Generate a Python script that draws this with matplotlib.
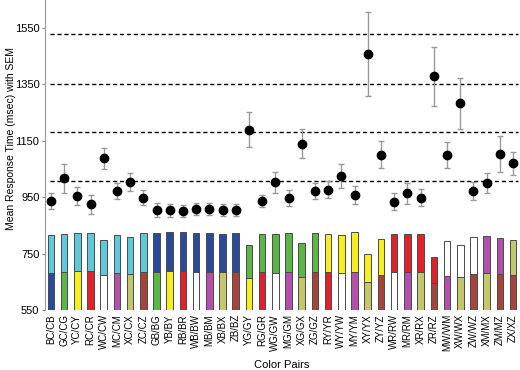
import numpy as np
import matplotlib
matplotlib.use("Agg")
from matplotlib import pyplot as plt

plt.rcParams['font.family'] = ['Liberation Sans', 'DejaVu Sans']

# colour pairs (bottom colour = first letter, top colour = second letter)
pairs = ["BC/CB", "GC/CG", "YC/CY", "RC/CR", "WC/CW", "MC/CM", "XC/CX",
         "ZC/CZ", "GB/BG", "YB/BY", "RB/BR", "WB/BW", "MB/BM", "XB/BX",
         "ZB/BZ", "YG/GY", "RG/GR", "WG/GW", "MG/GM", "XG/GX", "ZG/GZ",
         "RY/YR", "WY/YW", "MY/YM", "XY/YX", "ZY/YZ", "WR/RW", "MR/RM",
         "XR/RX", "ZR/RZ", "MW/WM", "XW/WX", "ZW/WZ", "XM/MX", "ZM/MZ",
         "ZX/XZ"]

mean_rt = [936, 1016, 955, 924, 1087, 972, 1002, 948, 905, 903, 902, 907,
           908, 905, 904, 1188, 936, 1002, 947, 1139, 972, 976, 1024, 957,
           1456, 1100, 934, 964, 948, 1378, 1098, 1282, 972, 1000, 1102,
           1070]
sem_rt = [29, 50, 32, 34, 38, 28, 32, 26, 25, 24, 21, 22, 21, 22, 22, 62,
          22, 38, 27, 51, 27, 30, 42, 31, 148, 48, 30, 37, 29, 105, 46, 90,
          31, 35, 63, 40]

# stacked colour swatches: split level and top level (msec)
split_lvl = [682, 685, 687, 688, 674, 682, 679, 686, 686, 687, 687, 686,
             686, 686, 686, 665, 686, 683, 685, 668, 685, 685, 682, 686,
             648, 675, 684, 684, 684, 645, 672, 666, 678, 680, 678, 674]
top_lvl = [815, 819, 823, 824, 799, 815, 810, 822, 822, 825, 825, 823,
           823, 821, 823, 779, 821, 818, 822, 787, 822, 821, 816, 825,
           747, 800, 821, 819, 819, 739, 794, 779, 809, 811, 805, 798]

thresholds = [1006, 1179, 1352, 1527]

color_map = {
    "C": "#5fc9dc", "B": "#2a4b9b", "G": "#5cb645", "Y": "#f7ee22",
    "R": "#e3202a", "W": "#ffffff", "M": "#b350ac", "X": "#c3c66b",
    "Z": "#a4443a",
}

base = 550
x = np.arange(len(pairs))

fig = plt.figure(figsize=(5.2, 3.7), dpi=100)
ax = fig.add_axes([0.0865, 0.162, 0.9115, 0.838])

bottom_cols = [color_map[p[0]] for p in pairs]
top_cols = [color_map[p[1]] for p in pairs]
ax.bar(x, np.array(split_lvl) - base, bottom=base, width=0.5,
       color=bottom_cols, edgecolor="#4a4a4a", linewidth=0.7, zorder=2)
ax.bar(x, np.array(top_lvl) - np.array(split_lvl), bottom=split_lvl,
       width=0.5, color=top_cols, edgecolor="#4a4a4a", linewidth=0.7,
       zorder=2)

for t in thresholds:
    ax.hlines(t, -0.1, 35.35, colors="black", linestyles=(0, (3, 2)),
              linewidth=1.0, zorder=1)

ax.errorbar(x, mean_rt, yerr=sem_rt, fmt="o", color="black",
            markersize=6, ecolor="#9a9a9a", elinewidth=1.0, capsize=2.5,
            capthick=1.0, zorder=3)

ax.set_xlim(-0.45, 35.45)
ax.set_ylim(550, 1648)
ax.set_yticks([550, 750, 950, 1150, 1350, 1550])
ax.set_xticks(x)
ax.set_xticklabels(pairs, rotation=90, fontsize=7)
ax.tick_params(axis="y", labelsize=8, length=2, color="#888888", pad=2)
ax.tick_params(axis="x", length=0, pad=3)

for side in ["top", "right", "bottom"]:
    ax.spines[side].set_visible(False)
ax.spines["left"].set_color("#999999")
ax.spines["left"].set_linewidth(0.8)

ax.set_ylabel("Mean Response Time (msec) with SEM", fontsize=7.5)
ax.yaxis.set_label_coords(-0.062, 0.552)
ax.set_xlabel("Color Pairs", fontsize=8, labelpad=6)

fig.savefig("out.png", dpi=100)
